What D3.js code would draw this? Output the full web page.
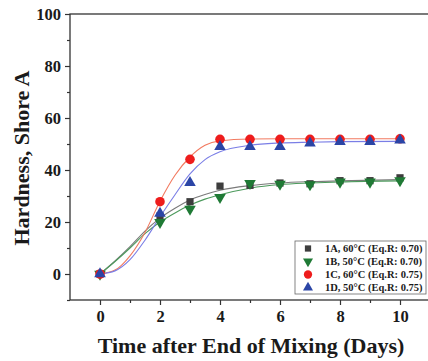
<!DOCTYPE html>
<html>
<head>
<meta charset="utf-8">
<script src="https://cdn.jsdelivr.net/npm/d3@7"></script>
<style>
  body { margin: 0; background: #fff; }
  svg { display: block; }
  text { font-family: "Liberation Serif", "Times New Roman", serif; font-weight: bold; fill: #1a1a1a; }
</style>
</head>
<body>
<svg width="428" height="361"></svg>
<script>
// measured points
const days = [0, 2, 3, 4, 5, 6, 7, 8, 9, 10]
const s1A = [0, 22.3, 27.8, 33.8, 34.1, 35, 34.7, 35.9, 35.9, 37]
const s1B = [0, 19.9, 25, 29.5, 34.9, 34.6, 34.4, 35.4, 35.4, 35.9]
const s1C = [0, 27.8, 44.1, 51.8, 51.8, 51.8, 51.8, 51.8, 51.8, 52]
const s1D = [0, 23.3, 35.1, 49, 49, 49, 50.3, 50.9, 50.9, 51.5]

// fitted curves
const fitX = [0, 0.5, 1, 1.5, 2, 2.5, 3, 3.5, 4, 5, 6, 7, 8, 10]
const fit1A = [0, 5, 10.5, 16.5, 21.5, 25.3, 28.5, 30.6, 32.2, 34, 35, 35.5, 35.8, 36.3]
const fit1B = [0, 4.8, 10, 15.5, 20, 23.5, 26.5, 28.8, 30.5, 33, 34.4, 35, 35.4, 35.8]
const fit1C = [0, 1.5, 7, 16, 28, 38, 45, 49.5, 51.2, 51.9, 52, 52, 52, 52]
const fit1D = [0, 1.2, 5.5, 13, 22, 30.5, 38.5, 44, 47, 49.5, 50.4, 50.7, 50.9, 51]

const labels = ['1A, 60°C (Eq.R: 0.70)', '1B, 50°C (Eq.R: 0.70)', '1C, 60°C (Eq.R: 0.75)', '1D, 50°C (Eq.R: 0.75)']
const xTicks = [0, 2, 4, 6, 8, 10]
const yTicks = [0, 20, 40, 60, 80, 100]

const series = [
  {vals: s1A, fit: fit1A, sym: d3.symbolSquare, size: 52, fill: '#3d3d3d', line: '#7a7a7a', rot: 0},
  {vals: s1B, fit: fit1B, sym: d3.symbolTriangle, size: 58, fill: '#1f7a35', line: '#4c9a5c', rot: 180},
  {vals: s1C, fit: fit1C, sym: d3.symbolCircle, size: 72, fill: '#ee1c1c', line: '#f27a60', rot: 0},
  {vals: s1D, fit: fit1D, sym: d3.symbolTriangle, size: 58, fill: '#2b45a6', line: '#7a7ee6', rot: 0}
]

const svg = d3.select('svg')
const x = d3.scaleLinear().domain([-1, 11]).range([70, 430])
const y = d3.scaleLinear().domain([-10, 100]).range([300, 14])

// frame
svg.append('rect')
  .attr('x', x(-1)).attr('y', y(100))
  .attr('width', x(11) - x(-1)).attr('height', y(-10) - y(100))
  .attr('fill', 'none').attr('stroke', '#333').attr('stroke-width', 1.3)

const xAxis = svg.append('g').attr('transform', `translate(0,${y(-10)})`)
xAxis.call(d3.axisBottom(x).tickValues(d3.range(1, 10, 2)).tickSize(3).tickFormat(''))
xAxis.append('g').call(d3.axisBottom(x).tickValues(xTicks).tickSize(5).tickPadding(5))
const yAxis = svg.append('g').attr('transform', `translate(${x(-1)},0)`)
yAxis.call(d3.axisLeft(y).tickValues(d3.range(-10, 100, 20)).tickSize(3).tickFormat(''))
yAxis.append('g').call(d3.axisLeft(y).tickValues(yTicks).tickSize(5).tickPadding(4))
svg.selectAll('.domain').remove()
svg.selectAll('.tick line').attr('stroke', '#333').attr('stroke-width', 1.2)
svg.selectAll('.tick text').attr('font-size', 16.5).attr('fill', '#1a1a1a')
  .style('font-family', '"Liberation Serif", serif').style('font-weight', 'bold')

// fit lines
const line = d3.line().curve(d3.curveMonotoneX)
series.forEach(s => {
  svg.append('path')
    .attr('d', line(fitX.map((d, i) => [x(d), y(s.fit[i])])))
    .attr('fill', 'none').attr('stroke', s.line).attr('stroke-width', 1.1)
})

// markers
series.forEach(s => {
  svg.append('g').selectAll('path').data(s.vals).join('path')
    .attr('d', d3.symbol(s.sym, s.size))
    .attr('transform', (d, i) => `translate(${x(days[i])},${y(d)}) rotate(${s.rot})`)
    .attr('fill', s.fill)
})

// axis titles
svg.append('text').attr('x', 251).attr('y', 353).attr('text-anchor', 'middle')
  .attr('font-size', 22).text('Time after End of Mixing (Days)')
svg.append('text').attr('transform', 'translate(29,158) rotate(-90)').attr('text-anchor', 'middle')
  .attr('font-size', 22).text('Hardness, Shore A')

// legend
const leg = svg.append('g')
leg.append('rect').attr('x', 295).attr('y', 241).attr('width', 131).attr('height', 53)
  .attr('fill', '#fff').attr('stroke', '#666').attr('stroke-width', 0.8)
series.forEach((s, i) => {
  const ly = 248.5 + i * 13
  leg.append('path').attr('d', d3.symbol(s.sym, s.size * 0.75))
    .attr('transform', `translate(308,${ly}) rotate(${s.rot})`).attr('fill', s.fill)
  leg.append('text').attr('x', 325).attr('y', ly + 3.5).attr('font-size', 10.5)
    .attr('fill', '#333').text(labels[i])
})
</script>
</body>
</html>
